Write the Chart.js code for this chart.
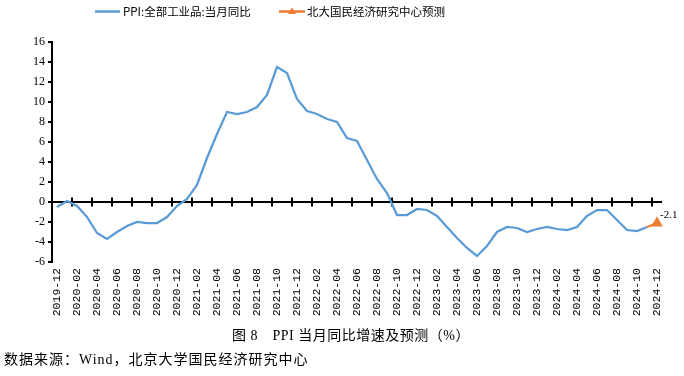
<!DOCTYPE html>
<html>
<head>
<meta charset="utf-8">
<script src="https://cdn.jsdelivr.net/npm/chart.js@4"></script>
<style>
  html, body { margin: 0; padding: 0; background: #fff; }
  #wrap { position: relative; width: 684px; height: 376px; }
  .note {
    position: absolute;
    white-space: nowrap;
    color: #000;
    font-family: "Liberation Serif", "Noto Sans CJK SC", serif;
    font-size: 14px;
    line-height: 16px;
  }
  #caption { left: 232px; top: 328px; letter-spacing: 0.5px; }
  #source { left: 4px; top: 352px; letter-spacing: 1px; }
</style>
</head>
<body>
<div id="wrap">
  <canvas id="chart" width="684" height="376"></canvas>
  <div class="note" id="caption">图 8　PPI 当月同比增速及预测（%）</div>
  <div class="note" id="source">数据来源：Wind，北京大学国民经济研究中心</div>
</div>
<script>
const months = [
  "2019-12",
  "2020-01", "2020-02", "2020-03", "2020-04", "2020-05", "2020-06",
  "2020-07", "2020-08", "2020-09", "2020-10", "2020-11", "2020-12",
  "2021-01", "2021-02", "2021-03", "2021-04", "2021-05", "2021-06",
  "2021-07", "2021-08", "2021-09", "2021-10", "2021-11", "2021-12",
  "2022-01", "2022-02", "2022-03", "2022-04", "2022-05", "2022-06",
  "2022-07", "2022-08", "2022-09", "2022-10", "2022-11", "2022-12",
  "2023-01", "2023-02", "2023-03", "2023-04", "2023-05", "2023-06",
  "2023-07", "2023-08", "2023-09", "2023-10", "2023-11", "2023-12",
  "2024-01", "2024-02", "2024-03", "2024-04", "2024-05", "2024-06",
  "2024-07", "2024-08", "2024-09", "2024-10", "2024-11", "2024-12"
];

// PPI yoy, 2019-12 .. 2024-11
const ppiValues = [
  -0.5,
  0.1, -0.4, -1.5, -3.1, -3.7, -3.0,
  -2.4, -2.0, -2.1, -2.1, -1.5, -0.4,
  0.3, 1.7, 4.4, 6.8, 9.0, 8.8,
  9.0, 9.5, 10.7, 13.5, 12.9, 10.3,
  9.1, 8.8, 8.3, 8.0, 6.4, 6.1,
  4.2, 2.3, 0.9, -1.3, -1.3, -0.7,
  -0.8, -1.4, -2.5, -3.6, -4.6, -5.4,
  -4.4, -3.0, -2.5, -2.6, -3.0, -2.7,
  -2.5, -2.7, -2.8, -2.5, -1.4, -0.8,
  -0.8, -1.8, -2.8, -2.9, -2.5
];

// forecast segment: last actual month + forecast month
const forecastMonths = ["2024-11", "2024-12"];
const forecastValues = [-2.5, -2.1];

const yTicks = [-6, -4, -2, 0, 2, 4, 6, 8, 10, 12, 14, 16];

const blue = "#5b9bd5";
const orange = "#ed7d31";

// zero axis with cross tick marks every two months
const zeroAxis = {
  id: "zeroAxis",
  beforeDatasetsDraw(chart) {
    const { ctx, chartArea, scales } = chart;
    const y0 = scales.y.getPixelForValue(0);
    ctx.save();
    ctx.strokeStyle = "#000";
    ctx.lineWidth = 2;
    ctx.beginPath();
    ctx.moveTo(chartArea.left, y0);
    ctx.lineTo(chartArea.right, y0);
    ctx.stroke();
    for (let i = 1; i < months.length - 1; i += 2) {
      const x = (scales.x.getPixelForValue(i) + scales.x.getPixelForValue(i + 1)) / 2;
      ctx.beginPath();
      ctx.moveTo(x, y0 - 4.5);
      ctx.lineTo(x, y0 + 4.5);
      ctx.stroke();
    }
    ctx.restore();
  }
};

// legend + value label for the forecast point
const extras = {
  id: "extras",
  afterDraw(chart) {
    const { ctx } = chart;
    ctx.save();
    ctx.lineWidth = 2.5;
    ctx.strokeStyle = blue;
    ctx.beginPath();
    ctx.moveTo(95, 11.5);
    ctx.lineTo(120, 11.5);
    ctx.stroke();
    ctx.strokeStyle = orange;
    ctx.beginPath();
    ctx.moveTo(279, 11.5);
    ctx.lineTo(305, 11.5);
    ctx.stroke();
    ctx.fillStyle = orange;
    ctx.beginPath();
    ctx.moveTo(292, 7.5);
    ctx.lineTo(296, 14);
    ctx.lineTo(288, 14);
    ctx.closePath();
    ctx.fill();

    ctx.fillStyle = "#000";
    ctx.font = '11.5px "Noto Sans CJK SC"';
    ctx.textBaseline = "middle";
    ctx.textAlign = "left";
    ctx.fillText("PPI:全部工业品:当月同比", 123, 12);
    ctx.fillText("北大国民经济研究中心预测", 307, 12);

    const meta = chart.getDatasetMeta(1);
    const pt = meta.data[meta.data.length - 1];
    ctx.font = '11px "Liberation Serif"';
    ctx.textBaseline = "alphabetic";
    ctx.fillText(String(forecastValues[forecastValues.length - 1]), pt.x + 3, pt.y - 5);
    ctx.restore();
  }
};

new Chart(document.getElementById("chart"), {
  type: "line",
  data: {
    labels: months,
    datasets: [
      {
        label: "PPI:全部工业品:当月同比",
        data: ppiValues,
        borderColor: blue,
        backgroundColor: blue,
        borderWidth: 2.25,
        pointRadius: 0,
        tension: 0
      },
      {
        label: "北大国民经济研究中心预测",
        data: forecastMonths.map((m, i) => ({ x: m, y: forecastValues[i] })),
        borderColor: orange,
        backgroundColor: orange,
        borderWidth: 2.25,
        pointStyle: "triangle",
        pointRadius: (c) => (c.dataIndex === forecastValues.length - 1 ? 4.5 : 0),
        tension: 0
      }
    ]
  },
  options: {
    responsive: false,
    animation: false,
    devicePixelRatio: 1,
    layout: { padding: { left: 0, top: 42, right: 22, bottom: 54 } },
    plugins: {
      legend: { display: false },
      tooltip: { enabled: false }
    },
    scales: {
      x: {
        type: "category",
        offset: true,
        afterFit: (s) => { s.height = 60; },
        grid: { display: false, drawTicks: false },
        border: { display: false },
        ticks: {
          autoSkip: false,
          maxRotation: 90,
          minRotation: 90,
          padding: 6,
          color: "#000",
          font: { family: "Liberation Mono", size: 11.5 },
          callback: (v, i) => (i % 2 === 0 ? months[i] : "")
        }
      },
      y: {
        min: yTicks[0],
        max: yTicks[yTicks.length - 1],
        afterFit: (s) => { s.width = 52; },
        afterBuildTicks: (s) => { s.ticks = yTicks.map((v) => ({ value: v })); },
        border: { display: true, color: "#000", width: 2 },
        grid: { drawOnChartArea: false, drawTicks: true, tickLength: 4, color: "#000", lineWidth: 2 },
        ticks: {
          padding: 3,
          color: "#000",
          font: { family: "Liberation Serif", size: 12 }
        }
      }
    }
  },
  plugins: [zeroAxis, extras]
});
</script>
</body>
</html>
